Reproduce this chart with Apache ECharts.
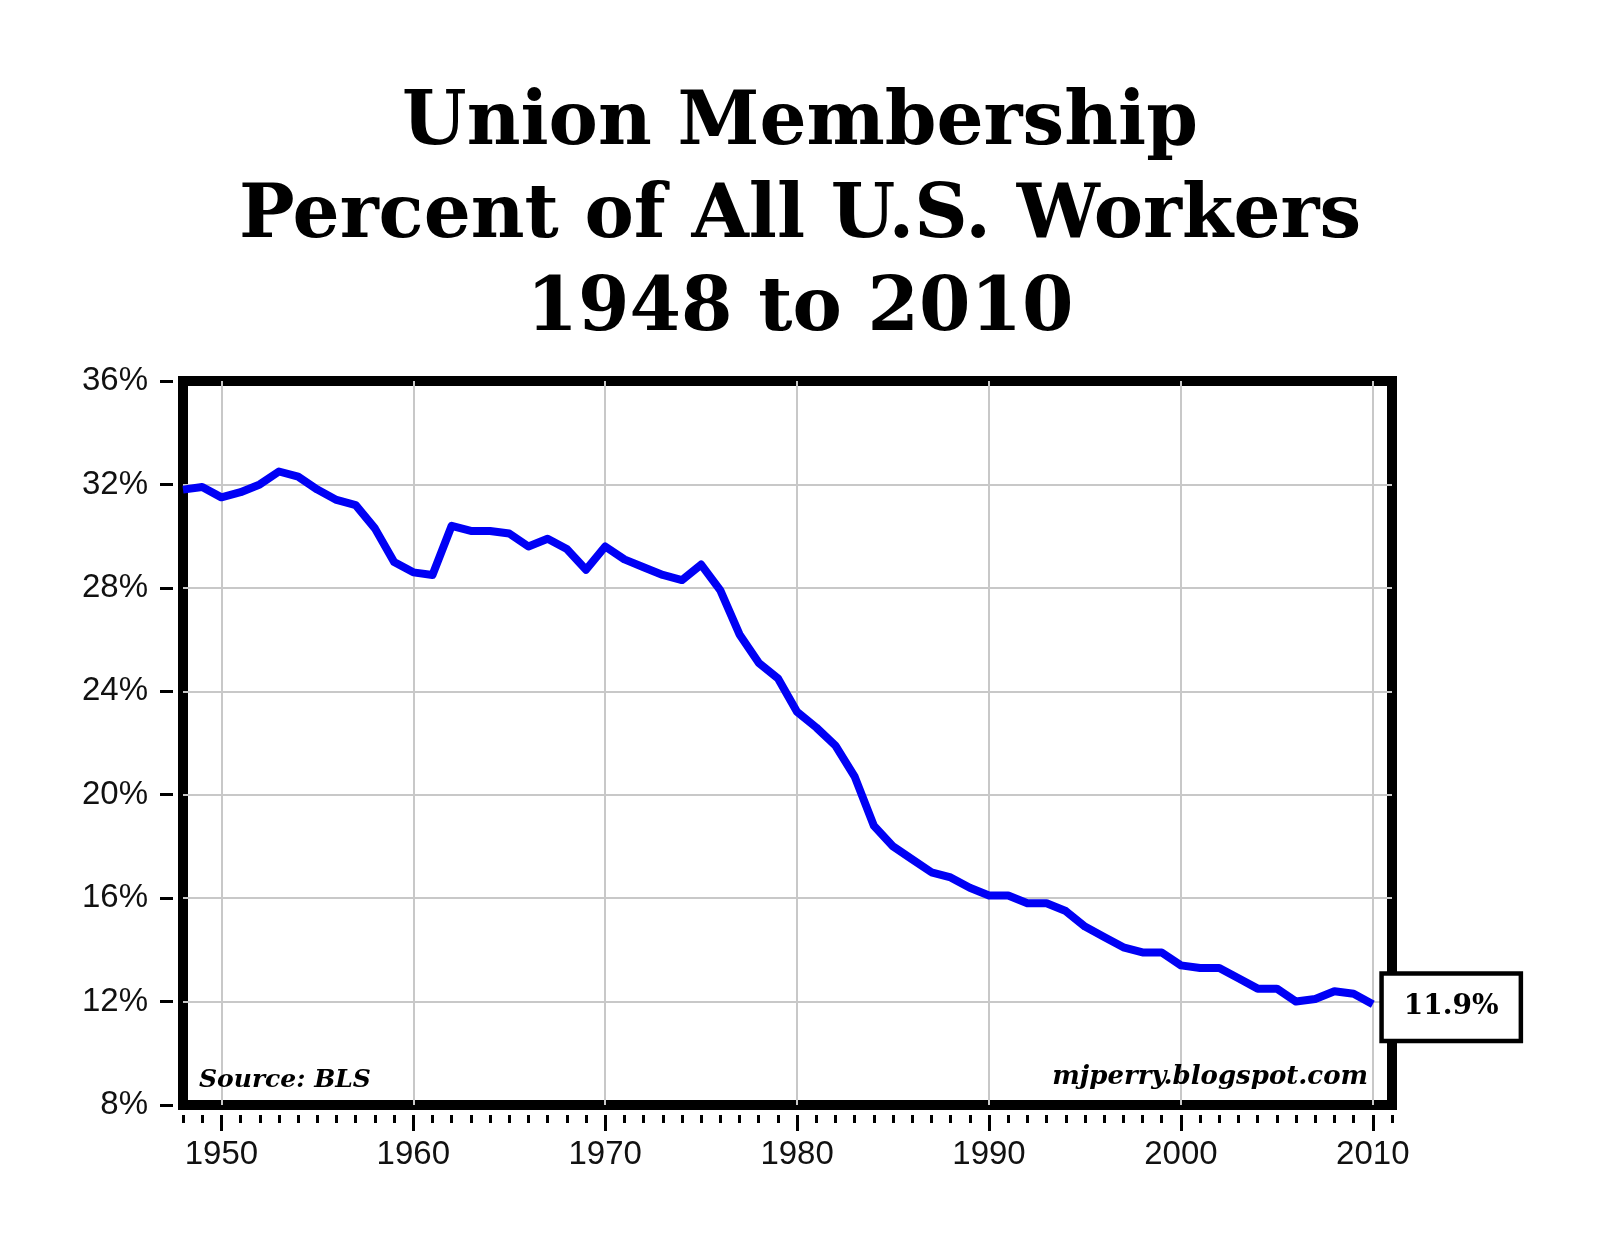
<!DOCTYPE html>
<html>
<head>
<meta charset="utf-8">
<title>Union Membership</title>
<script src="https://cdn.jsdelivr.net/npm/echarts@6/dist/echarts.min.js"></script>
<style>
  html, body { margin: 0; padding: 0; background: #fff; }
  main { width: 1600px; height: 1244px; }
</style>
</head>
<body>
<main></main>
<script>
const years = [
  1948, 1949, 1950, 1951, 1952, 1953, 1954, 1955, 1956, 1957,
  1958, 1959, 1960, 1961, 1962, 1963, 1964, 1965, 1966, 1967,
  1968, 1969, 1970, 1971, 1972, 1973, 1974, 1975, 1976, 1977,
  1978, 1979, 1980, 1981, 1982, 1983, 1984, 1985, 1986, 1987,
  1988, 1989, 1990, 1991, 1992, 1993, 1994, 1995, 1996, 1997,
  1998, 1999, 2000, 2001, 2002, 2003, 2004, 2005, 2006, 2007,
  2008, 2009, 2010
]
// percent of all U.S. workers in unions (BLS)
const membership = [
  31.8, 31.9, 31.5, 31.7, 32.0, 32.5, 32.3, 31.8, 31.4, 31.2,
  30.3, 29.0, 28.6, 28.5, 30.4, 30.2, 30.2, 30.1, 29.6, 29.9,
  29.5, 28.7, 29.6, 29.1, 28.8, 28.5, 28.3, 28.9, 27.9, 26.2,
  25.1, 24.5, 23.2, 22.6, 21.9, 20.7, 18.8, 18.0, 17.5, 17.0,
  16.8, 16.4, 16.1, 16.1, 15.8, 15.8, 15.5, 14.9, 14.5, 14.1,
  13.9, 13.9, 13.4, 13.3, 13.3, 12.9, 12.5, 12.5, 12.0, 12.1,
  12.4, 12.3, 11.9
]
const decadeTicks = [1950, 1960, 1970, 1980, 1990, 2000, 2010]
const yTicks = [8, 12, 16, 20, 24, 28, 32, 36]

const chart = echarts.init(document.querySelector('main'))

const axisText = { fontFamily: 'Liberation Sans', fontSize: 33, color: '#111' }

chart.setOption({
  animation: false,
  backgroundColor: '#fff',
  title: {
    text: 'Union Membership\nPercent of All U.S. Workers\n1948 to 2010',
    left: 'center',
    top: 73,
    textStyle: {
      fontFamily: 'DejaVu Serif',
      fontWeight: 'bold',
      fontSize: 74,
      lineHeight: 93,
      color: '#000',
    },
  },
  graphic: [
    {
      type: 'text',
      left: 199,
      top: 1068,
      style: { text: 'Source: BLS', font: 'italic bold 25px "DejaVu Serif"', fill: '#000' },
      z: 50,
    },
    {
      type: 'text',
      right: 232,
      top: 1064,
      style: { text: 'mjperry.blogspot.com', font: 'italic bold 26px "DejaVu Serif"', fill: '#000' },
      z: 50,
    },
  ],
  grid: {
    left: 183,
    right: 208,
    top: 381,
    bottom: 139,
    show: true,
    borderColor: '#000',
    borderWidth: 10,
    backgroundColor: '#fff',
  },
  xAxis: [
    {
      type: 'value',
      min: 1948,
      max: 2011,
      interval: 1,
      offset: 10,
      axisLine: { show: false },
      axisTick: { show: true, length: 8, lineStyle: { color: '#000', width: 3 } },
      axisLabel: {
        ...axisText,
        margin: 23,
        formatter: (v) => (decadeTicks.includes(v) ? String(v) : ''),
      },
      splitLine: { show: false },
    },
    {
      type: 'value',
      position: 'bottom',
      min: 1948,
      max: 2011,
      offset: 10,
      axisLine: { show: false },
      axisTick: { show: true, length: 16, customValues: decadeTicks, lineStyle: { color: '#000', width: 3 } },
      axisLabel: { show: false, customValues: decadeTicks },
      splitLine: { show: true, lineStyle: { color: '#c8c8c8', width: 2 } },
    },
  ],
  yAxis: {
    type: 'value',
    min: 8,
    max: 36,
    interval: 4,
    offset: 10,
    axisLine: { show: false },
    axisTick: { show: true, length: 13, lineStyle: { color: '#000', width: 3 } },
    axisLabel: {
      ...axisText,
      margin: 25,
      customValues: yTicks,
      formatter: '{value}%',
    },
    splitLine: {
      show: true,
      showMinLine: false,
      showMaxLine: false,
      lineStyle: { color: '#c8c8c8', width: 2 },
    },
  },
  series: [
    {
      type: 'line',
      xAxisIndex: 0,
      data: years.map((y, i) => [y, membership[i]]),
      symbol: 'none',
      z: 3,
      lineStyle: { color: '#0000f5', width: 8, join: 'round' },
      endLabel: {
        show: true,
        formatter: (p) => p.value[1].toFixed(1) + '%',
        distance: 11,
        offset: [0, 3],
        fontFamily: 'DejaVu Serif',
        fontWeight: 'bold',
        fontSize: 28,
        color: '#000',
        backgroundColor: '#fff',
        borderColor: '#000',
        borderWidth: 4.5,
        padding: [18, 20, 17, 20],
      },
    },
  ],
})
</script>
</body>
</html>
